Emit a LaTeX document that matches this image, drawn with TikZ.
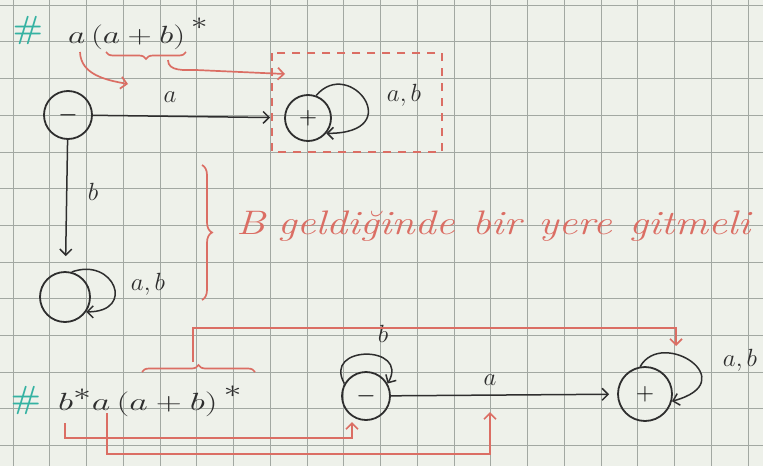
\documentclass[tikz,border=0pt]{standalone}
\usetikzlibrary{arrows.meta,decorations.pathreplacing}
\definecolor{ink}{HTML}{2E2E2E}
\definecolor{redpen}{HTML}{DB6E64}
\definecolor{tealpen}{HTML}{34B2A2}
\definecolor{paper}{HTML}{EEF1EA}
\definecolor{gridc}{HTML}{A2A8A2}
\tikzset{
  stnode/.style={circle,draw=ink,line width=1.8pt,inner sep=0pt,font=\fontsize{28}{28}\selectfont},
  arr/.style={draw=ink,line width=1.5pt,-{Straight Barb[length=6pt,width=12pt,line width=1.5pt]}},
  redarr/.style={draw=redpen,line width=1.7pt,-{Straight Barb[length=6pt,width=12pt,line width=1.7pt]}},
  bracestyle/.style={draw=redpen,line width=1.7pt,decorate},
  lbl/.style={text=ink,font=\fontsize{30}{30}\selectfont,inner sep=1pt},
  exprtxt/.style={text=ink,font=\fontsize{34}{34}\selectfont,inner sep=0pt},
  hashtxt/.style={text=tealpen,font=\fontsize{32}{32}\selectfont\bfseries,inner sep=0pt},
  notetxt/.style={text=redpen,font=\fontsize{34}{34}\selectfont\itshape,inner sep=0pt},
  dashbox/.style={draw=redpen,line width=1.7pt,dash pattern=on 8pt off 7pt},
  gridline/.style={draw=gridc,line width=0.6pt}
}
\begin{document}
\begin{tikzpicture}[x=1pt,y=1pt]
\useasboundingbox (0,0) rectangle (763,-466);
\fill[paper] (0,0) rectangle (763,-466);
\foreach \k in {0,...,20} \draw[gridline] ({13+36.75*\k},0) -- ({13+36.75*\k},-466);
\foreach \k in {0,...,12} \draw[gridline] (0,{-5-36.7*\k}) -- (763,{-5-36.7*\k});

% ---------- top expression ----------
\node[hashtxt] (h1) at (28,-30) {\#};
\node[exprtxt,anchor=base west] (ex1) at (68,-43) {\scalebox{1.35}[1]{$a\,(a+b)^{\,\raisebox{4pt}{$\scriptstyle *$}}$}};
\draw[bracestyle,decoration={brace,amplitude=7pt}] (186,-52) -- (106,-52);
\coordinate (ra) at (80,-52);
\coordinate (rat) at (128,-84);
\draw[redarr] (ra) to[out=-88,in=170] (rat);
\coordinate (rb) at (168,-60);
\coordinate (rbm) at (196,-70);
\coordinate (rbt) at (285,-74);
\draw[redarr] (rb) to[out=-90,in=180] (rbm) -- (rbt);
\draw[dashbox] (272,-53) rectangle (442,-152);

% ---------- top automaton ----------
\node[stnode,minimum size=48pt] (s1) at (68,-115) {$-$};
\node[stnode,minimum size=46pt] (s2) at (308,-118) {$+$};
\node[stnode,minimum size=50pt] (s3) at (65,-297) {};
\draw[arr,shorten >=14pt] (s1) -- (s2);
\node[lbl] (la1) at (170,-97) {$a$};
\draw[arr,shorten >=15pt] (s1) -- (s3);
\node[lbl] (lb1) at (93,-192) {$b$};
\draw[arr] (s2.70) .. controls +(50:52) and +(0:82) .. (s2.-40);
\node[lbl] (lab1) at (404,-95) {$a,b$};
\draw[arr] (s3.75) .. controls +(20:45) and +(0:50) .. (s3.-35);
\node[lbl] (lab2) at (148,-284) {$a,b$};

% ---------- note ----------
\draw[bracestyle,decoration={brace,amplitude=10pt}] (202,-165) -- (202,-300);
\node[notetxt,anchor=west] (note) at (236,-226) {\scalebox{1.24}[1]{B\hspace{10pt}geldiğinde\hspace{14pt}bir\hspace{14pt}yere\hspace{14pt}gitmeli}};

% ---------- bottom expression ----------
\node[hashtxt] (h2) at (26,-400) {\#};
\node[exprtxt,anchor=base west] (ex2) at (58,-410) {\scalebox{1.45}[1]{$b^{*}a\,(a+b)^{\,\raisebox{3pt}{$\scriptstyle *$}}$}};
\draw[bracestyle,decoration={brace,amplitude=7pt}] (142,-372) -- (255,-372);

% ---------- bottom automaton ----------
\node[stnode,minimum size=48pt] (s4) at (366,-396) {$-$};
\node[stnode,minimum size=54pt] (s5) at (645,-394) {$+$};
\draw[arr,shorten >=8pt] (s4) -- (s5);
\node[lbl] (la2) at (490,-380) {$a$};
\draw[arr] (s4.150) .. controls +(120:45) and +(60:45) .. (s4.30);
\node[lbl] (lb2) at (383,-334) {$b$};
\draw[arr] (s5.100) .. controls +(60:45) and +(15:75) .. (s5.-15);
\node[lbl] (lab3) at (740,-360) {$a,b$};

% ---------- bottom red connectors ----------
\coordinate (bt) at (193,-362);
\coordinate (bte) at (676,-346);
\draw[redarr] (bt) |- (676,-328) -- (bte);
\coordinate (rc) at (65,-423);
\coordinate (rce) at (352,-422);
\draw[redarr] (rc) -- (65,-438) -| (rce);
\coordinate (rd) at (107,-413);
\coordinate (rde) at (490,-412);
\draw[redarr] (rd) -- (107,-454) -| (rde);
\end{tikzpicture}
\end{document}
